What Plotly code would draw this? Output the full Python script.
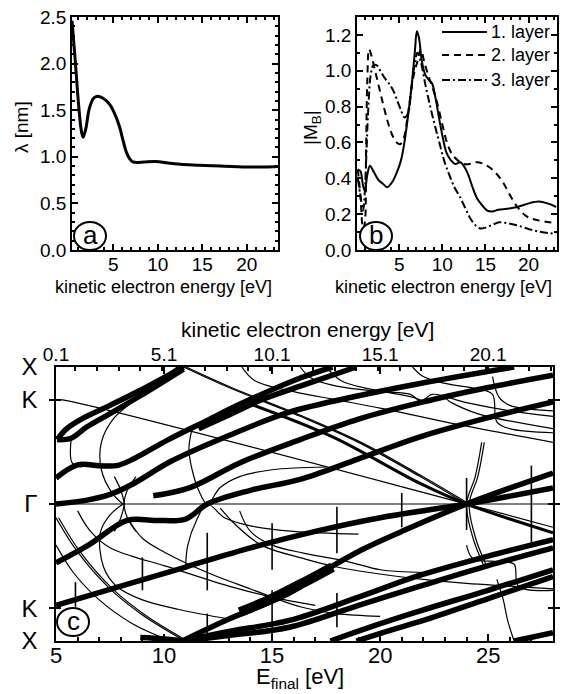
import plotly.graph_objects as go

# ---------------- panel (a): inelastic mean free path ----------------
a_energy = [0.35, 0.7, 1.1, 1.4, 1.6, 1.9, 2.3, 2.8, 3.2, 3.8, 4.6, 5.2, 5.7, 6.1, 6.5, 6.9, 7.2, 7.6, 8.5, 9.8, 11.0, 12.5, 14.7, 17.0, 20.0, 22.0, 23.5]
a_lambda = [2.46, 2.05, 1.55, 1.28, 1.21, 1.30, 1.52, 1.63, 1.65, 1.63, 1.56, 1.45, 1.32, 1.17, 1.04, 0.97, 0.945, 0.94, 0.945, 0.95, 0.935, 0.92, 0.91, 0.90, 0.89, 0.89, 0.895]

# ---------------- panel (b): |M_B| for three layers ----------------
b_energy1 = [0.2, 0.5, 0.8, 1.0, 1.3, 1.6, 2.0, 2.6, 3.1, 3.6, 4.2, 4.7, 5.2, 5.6, 6.0, 6.4, 6.8, 7.05, 7.3, 7.6, 8.0, 8.4, 8.8, 9.2, 9.6, 10.0, 10.5, 11.0, 11.5, 12.1, 12.6, 13.0, 13.5, 14.0, 14.6, 15.2, 15.8, 16.5, 17.5, 18.7, 20.0, 21.2, 22.2, 23.2]
b_layer1 = [0.45, 0.44, 0.36, 0.33, 0.42, 0.47, 0.44, 0.39, 0.37, 0.35, 0.38, 0.43, 0.50, 0.60, 0.74, 0.90, 1.10, 1.22, 1.18, 1.06, 0.98, 0.95, 0.93, 0.85, 0.74, 0.64, 0.54, 0.50, 0.48, 0.49, 0.46, 0.42, 0.35, 0.29, 0.25, 0.22, 0.215, 0.225, 0.23, 0.24, 0.26, 0.27, 0.26, 0.24]
b_energy2 = [0.2, 0.5, 0.8, 1.0, 1.15, 1.3, 1.5, 1.8, 2.2, 2.7, 3.2, 3.7, 4.2, 4.7, 5.1, 5.5, 5.9, 6.3, 6.7, 7.1, 7.5, 7.9, 8.4, 8.9, 9.4, 10.0, 10.6, 11.2, 11.8, 12.5, 13.2, 14.0, 14.8, 15.5, 16.2, 17.0, 17.8, 18.7, 19.7, 20.7, 21.8, 23.2]
b_layer2 = [0.45, 0.30, 0.12, 0.15, 0.55, 0.95, 1.12, 1.08, 1.00, 0.90, 0.80, 0.71, 0.64, 0.60, 0.59, 0.62, 0.72, 0.86, 0.98, 1.05, 1.12, 1.05, 0.97, 0.90, 0.82, 0.70, 0.59, 0.53, 0.50, 0.48, 0.48, 0.49, 0.48, 0.46, 0.43, 0.38, 0.31, 0.24, 0.19, 0.17, 0.16, 0.15]
b_energy3 = [0.2, 0.5, 0.8, 1.0, 1.2, 1.4, 1.7, 2.0, 2.4, 2.8, 3.3, 3.8, 4.3, 4.8, 5.2, 5.6, 6.0, 6.4, 6.8, 7.1, 7.5, 8.0, 8.5, 9.0, 9.6, 10.2, 10.8, 11.4, 12.0, 12.6, 13.2, 13.8, 14.4, 15.0, 15.8, 16.6, 17.5, 18.5, 19.5, 20.5, 21.5, 23.2]
b_layer3 = [0.40, 0.30, 0.22, 0.32, 0.55, 0.78, 0.98, 1.03, 1.03, 1.00, 0.96, 0.93, 0.89, 0.83, 0.78, 0.74, 0.76, 0.90, 1.04, 1.10, 1.05, 0.93, 0.82, 0.72, 0.61, 0.50, 0.42, 0.35, 0.30, 0.24, 0.18, 0.14, 0.12, 0.125, 0.14, 0.155, 0.15, 0.14, 0.125, 0.11, 0.10, 0.09]
b_legend = ["1. layer", "2. layer", "3. layer"]

# ---------------- panel (c): final-state bands, E_final vs k ----------------
k_tickvals = [-1.0, -0.76, 0.0, 0.76, 1.0]
k_ticktext = ["X", "K", "Γ", "K", "X"]
E_ticks = [5, 10, 15, 20, 25]
kin_ticks = [0.1, 5.1, 10.1, 15.1, 20.1]
work_offset = 4.9  # E_final - kinetic energy

# thick (strongly weighted) bands
T1a_E = [5.05, 5.5, 6.3, 7.5, 8.9, 10.9]
T1a_k = [0.47, 0.55, 0.63, 0.72, 0.83, 1.0]
T1b_E = [5.05, 5.7, 6.4, 7.5, 8.9, 10.9]
T1b_k = [0.47, 0.48, 0.56, 0.66, 0.79, 0.985]
T2_E = [5.0, 6.0, 7.0, 7.8, 8.6, 10.2, 12.0, 13.4, 16.3, 17.8]
T2_k = [0.19, 0.285, 0.28, 0.28, 0.33, 0.47, 0.61, 0.72, 0.92, 1.0]
T2b_E = [11.6, 13.0, 14.5, 16.3, 18.9]
T2b_k = [0.55, 0.65, 0.76, 0.86, 1.0]
T3_E = [5.0, 6.5, 7.5, 8.6, 10.3, 13.0, 15.8, 19.0, 21.85, 26.2]
T3_k = [0.0, 0.03, 0.07, 0.15, 0.31, 0.50, 0.67, 0.79, 0.88, 1.0]
T4_E = [9.5, 11.2, 13.5, 16.3, 19.0, 21.85, 25.0, 28.0]
T4_k = [0.06, 0.12, 0.30, 0.47, 0.62, 0.74, 0.85, 0.94]
T5_E = [5.0, 6.5, 8.3, 9.6, 11.0, 12.0, 14.0, 16.3, 19.0, 21.85, 25.0, 28.0]
T5_k = [-0.43, -0.30, -0.12, -0.12, -0.11, 0.0, 0.10, 0.18, 0.33, 0.49, 0.63, 0.745]
T6_E = [5.0, 8.0, 11.0, 14.0, 17.0, 20.0, 24.0, 28.0]
T6_k = [-0.74, -0.60, -0.46, -0.32, -0.20, -0.10, 0.0, 0.117]
T7_E = [10.85, 13.0, 15.8, 17.5, 19.2, 21.0, 24.0, 28.0]
T7_k = [-1.0, -0.84, -0.65, -0.48, -0.33, -0.20, 0.0, 0.226]
T8_E = [10.85, 13.0, 15.8, 19.0, 21.85, 25.0, 28.0]
T8_k = [-1.0, -0.93, -0.85, -0.68, -0.52, -0.38, -0.26]
T9_E = [10.85, 13.0, 15.8, 19.0, 21.85, 25.0, 28.0]
T9_k = [-1.0, -0.96, -0.90, -0.74, -0.60, -0.45, -0.32]
T10_E = [17.7, 19.5, 21.85, 25.0, 28.0]
T10_k = [-1.0, -0.90, -0.78, -0.63, -0.48]
T11_E = [18.9, 20.5, 22.0, 25.0, 28.0]
T11_k = [-1.0, -0.92, -0.85, -0.69, -0.53]
T12_E = [8.9, 10.0, 10.85]
T12_k = [-0.975, -0.985, -1.0]
T13_E = [26.2, 28.0]
T13_k = [-1.0, -0.94]
M1_E = [14.0, 17.8, 21.85, 24.0, 28.0]
M1_k = [0.73, 0.49, 0.15, 0.0, -0.21]
wide_E = [13.5, 15.0, 16.5, 17.8]
wide_k = [-0.79, -0.69, -0.57, -0.46]

# thin bands
t1_E = [5.0, 5.3, 24.0, 28.0]
t1_k = [0.76, 0.76, 0.0, -0.17]
t2_E = [10.9, 13.0, 16.3, 19.0, 21.85, 24.0]
t2_k = [1.0, 0.85, 0.64, 0.45, 0.2, 0.0]
t3_E = [10.6, 9.0, 7.7, 7.1, 7.1, 7.6, 8.1]
t3_k = [1.0, 0.8, 0.63, 0.45, 0.25, 0.08, 0.0]
t4_E = [8.1, 7.5, 7.05, 7.2, 7.8, 9.0, 10.7, 13.0]
t4_k = [0.0, -0.08, -0.21, -0.46, -0.60, -0.70, -0.77, -0.84]
t5_E = [8.7, 8.3, 8.15, 8.3, 8.7]
t5_k = [0.2, 0.1, 0.0, -0.1, -0.2]
t6_E = [7.7, 8.0, 8.15, 8.0, 7.7]
t6_k = [0.2, 0.1, 0.0, -0.1, -0.2]
t7_E = [11.3, 11.15, 11.3, 11.6, 12.0, 12.6, 13.5, 15.0, 17.5]
t7_k = [0.55, 0.4, 0.25, 0.1, 0.0, 0.12, 0.2, 0.25, 0.27]
t8_E = [11.0, 11.1, 11.5, 12.0, 12.8, 14.0, 16.0, 19.0]
t8_k = [-0.45, -0.3, -0.12, 0.0, -0.1, -0.16, -0.2, -0.22]
t9_E = [16.3, 16.8, 18.0, 20.0, 21.4, 21.9, 22.4, 24.0, 26.0, 28.0]
t9_k = [1.0, 0.92, 0.86, 0.82, 0.80, 0.75, 0.80, 0.74, 0.68, 0.64]
t10_E = [17.5, 18.2, 19.5, 21.5, 22.3, 22.8, 23.3, 24.5, 28.0]
t10_k = [1.0, 0.90, 0.84, 0.78, 0.74, 0.79, 0.74, 0.66, 0.55]
t11_E = [21.5, 22.0, 23.0, 24.5, 25.2, 25.4, 26.0, 28.0]
t11_k = [1.0, 0.93, 0.88, 0.84, 0.80, 0.60, 0.55, 0.52]
t12_E = [25.2, 25.5, 26.0, 28.0]
t12_k = [0.93, 0.78, 0.72, 0.68]
t13_E = [13.6, 14.2, 16.0, 18.0, 20.0, 23.0, 28.0]
t13_k = [1.0, 0.90, 0.82, 0.76, 0.70, 0.60, 0.45]
t14_E = [5.0, 6.0, 7.5, 9.0, 10.8]
t14_k = [-0.1, -0.35, -0.62, -0.81, -0.985]
t15_E = [5.0, 5.8, 7.0, 8.5, 10.3]
t15_k = [-0.3, -0.5, -0.7, -0.87, -1.0]
t16_E = [6.0, 6.6, 7.5, 8.5, 10.0, 13.0, 15.0, 17.0]
t16_k = [-0.05, -0.2, -0.32, -0.38, -0.45, -0.6, -0.68, -0.74]
t17_E = [8.3, 9.0, 10.0, 12.0, 14.0, 16.3, 18.0, 20.0]
t17_k = [-0.1, -0.25, -0.35, -0.5, -0.62, -0.75, -0.8, -0.82]
t18_E = [12.6, 13.3, 14.5, 16.5, 18.0, 19.5, 22.0, 24.0, 26.0, 28.0]
t18_k = [-0.03, -0.15, -0.3, -0.4, -0.46, -0.5, -0.55, -0.58, -0.6, -0.62]
t19_E = [13.5, 14.0, 15.0, 16.5, 18.5, 20.0, 22.0]
t19_k = [-0.05, -0.2, -0.3, -0.36, -0.42, -0.48, -0.5]
t20_E = [24.0, 24.3, 25.5, 26.2, 26.4, 28.0]
t20_k = [-0.3, -0.4, -0.42, -0.44, -0.6, -0.63]
t21_E = [25.4, 25.7, 25.9, 26.2]
t21_k = [-0.55, -0.7, -0.85, -1.0]
t22_E = [24.7, 24.4, 24.0, 24.3, 24.8]
t22_k = [0.45, 0.2, 0.0, -0.25, -0.45]
t23_E = [5.0, 28.0]
t23_k = [0.0, 0.0]
t24_E = [5.7, 5.75, 6.2]
t24_k = [0.47, 0.3, 0.27]

# vertical marker segments (E, k_from, k_to)
vbar_E = [5.9, 9.0, 12.0, 12.0, 15.0, 15.0, 18.0, 18.0, 21.0, 24.0, 27.0]
vbar_k0 = [-0.57, -0.39, -0.21, -0.80, -0.14, -0.63, -0.02, -0.65, 0.08, 0.19, 0.28]
vbar_k1 = [-0.75, -0.63, -0.63, -1.0, -0.48, -0.99, -0.36, -0.90, -0.17, -0.19, -0.30]

thick_bands = [(T1a_E, T1a_k), (T1b_E, T1b_k), (T2_E, T2_k), (T2b_E, T2b_k), (T3_E, T3_k),
               (T4_E, T4_k), (T5_E, T5_k), (T6_E, T6_k), (T7_E, T7_k), (T8_E, T8_k),
               (T9_E, T9_k), (T10_E, T10_k), (T11_E, T11_k), (T12_E, T12_k), (T13_E, T13_k)]
thin_bands = [(t1_E, t1_k), (t2_E, t2_k), (t3_E, t3_k), (t4_E, t4_k), (t5_E, t5_k), (t6_E, t6_k),
              (t7_E, t7_k), (t8_E, t8_k), (t9_E, t9_k), (t10_E, t10_k), (t11_E, t11_k), (t12_E, t12_k),
              (t13_E, t13_k), (t14_E, t14_k), (t15_E, t15_k), (t16_E, t16_k), (t17_E, t17_k),
              (t18_E, t18_k), (t19_E, t19_k), (t20_E, t20_k), (t21_E, t21_k), (t22_E, t22_k),
              (t23_E, t23_k), (t24_E, t24_k)]
double_bands = [(t2_E, t2_k), (t14_E, t14_k), (t22_E, t22_k)]

FONT = "Liberation Sans, Arial, sans-serif"
OFF = 8                      # page body margin of the browser
W, H = 570 - OFF, 694 - OFF  # figure size so that it fits in the window

fig = go.Figure()

# panel a
fig.add_trace(go.Scatter(x=a_energy, y=a_lambda, mode="lines", line=dict(color="black", width=3, shape="spline"),
                         xaxis="x", yaxis="y", showlegend=False))
# panel b
fig.add_trace(go.Scatter(x=b_energy1, y=b_layer1, mode="lines", line=dict(color="black", width=2, shape="spline"),
                         xaxis="x2", yaxis="y2", showlegend=False))
fig.add_trace(go.Scatter(x=b_energy2, y=b_layer2, mode="lines", line=dict(color="black", width=2, dash="7px,5px", shape="spline"),
                         xaxis="x2", yaxis="y2", showlegend=False))
fig.add_trace(go.Scatter(x=b_energy3, y=b_layer3, mode="lines", line=dict(color="black", width=2, dash="8px,3px,2px,3px", shape="spline"),
                         xaxis="x2", yaxis="y2", showlegend=False))

# panel c
for E, k in thin_bands:
    fig.add_trace(go.Scatter(x=E, y=k, mode="lines", line=dict(color="black", width=1.2, shape="spline"),
                             xaxis="x3", yaxis="y3", showlegend=False, hoverinfo="skip"))
for E, k in double_bands:
    fig.add_trace(go.Scatter(x=[e + 0.12 for e in E], y=k, mode="lines", line=dict(color="black", width=1.2, shape="spline"),
                             xaxis="x3", yaxis="y3", showlegend=False, hoverinfo="skip"))
for E, k0, k1 in zip(vbar_E, vbar_k0, vbar_k1):
    fig.add_trace(go.Scatter(x=[E, E], y=[k0, k1], mode="lines", line=dict(color="black", width=1.6),
                             xaxis="x3", yaxis="y3", showlegend=False, hoverinfo="skip"))
fig.add_trace(go.Scatter(x=M1_E, y=M1_k, mode="lines", line=dict(color="black", width=3, shape="spline"),
                         xaxis="x3", yaxis="y3", showlegend=False))
for E, k in thick_bands:
    fig.add_trace(go.Scatter(x=E, y=k, mode="lines", line=dict(color="black", width=5.5, shape="spline"),
                             xaxis="x3", yaxis="y3", showlegend=False))
fig.add_trace(go.Scatter(x=wide_E, y=wide_k, mode="lines", line=dict(color="black", width=10, shape="spline"),
                         xaxis="x3", yaxis="y3", showlegend=False))
# top axis (kinetic energy) carrier
fig.add_trace(go.Scatter(x=[5 - work_offset, 28 - work_offset], y=[0, 0], mode="lines",
                         line=dict(color="rgba(0,0,0,0)"), xaxis="x4", yaxis="y3", showlegend=False, hoverinfo="skip"))

axis_common = dict(showline=True, linecolor="black", linewidth=1.5, mirror="allticks", ticks="inside",
                   tickcolor="black", tickwidth=1.5, showgrid=False, zeroline=False, automargin=False,
                   ticklabeloverflow="allow",
                   tickfont=dict(family=FONT, size=19, color="black"))

def px_x(p):
    return (p - OFF) / W

def px_y(p):
    return 1 - (p - OFF) / H

big = dict(family=FONT, size=24, color="black")

fig.update_layout(
    template="none",
    width=W, height=H, margin=dict(l=0, r=0, t=0, b=0),
    paper_bgcolor="white", plot_bgcolor="white", showlegend=False,
    xaxis=dict(domain=[px_x(72), px_x(278)], range=[0.35, 23.5], tickvals=[5, 10, 15, 20], ticklen=6,
               ticklabelstandoff=-4,
               minor=dict(ticks="inside", dtick=1, ticklen=3, tickcolor="black"), anchor="y", **axis_common),
    yaxis=dict(domain=[px_y(250), px_y(17)], range=[0, 2.5], tickvals=[0, 0.5, 1.0, 1.5, 2.0, 2.5],
               ticktext=["0.0", "0.5", "1.0", "1.5", "2.0", "2.5"], ticklen=6,
               minor=dict(ticks="inside", dtick=0.1, ticklen=3, tickcolor="black"), anchor="x", **axis_common),
    xaxis2=dict(domain=[px_x(357), px_x(557)], range=[0.1, 23.3], tickvals=[5, 10, 15, 20], ticklen=6,
                ticklabelstandoff=-4,
                minor=dict(ticks="inside", dtick=1, ticklen=3, tickcolor="black"), anchor="y2", **axis_common),
    yaxis2=dict(domain=[px_y(250), px_y(17)], range=[0, 1.3], tickvals=[0, 0.2, 0.4, 0.6, 0.8, 1.0, 1.2],
                ticktext=["0.0", "0.2", "0.4", "0.6", "0.8", "1.0", "1.2"], ticklen=6,
                minor=dict(ticks="inside", dtick=0.1, ticklen=3, tickcolor="black"), anchor="x2", **axis_common),
    xaxis3=dict(domain=[px_x(56), px_x(553)], range=[5, 28], tickvals=E_ticks, ticklen=7,
                ticklabelstandoff=-6,
                minor=dict(ticks="inside", dtick=1, ticklen=4, tickcolor="black"), anchor="y3",
                **{**axis_common, "mirror": False, "tickfont": dict(family=FONT, size=22, color="black")}),
    xaxis4=dict(overlaying="x3", side="top", anchor="y3", range=[5 - work_offset, 28 - work_offset],
                tickvals=kin_ticks, ticktext=[f"{v:.1f}" for v in kin_ticks], ticklen=7,
                ticklabelstandoff=-3,
                minor=dict(ticks="inside", dtick=1, ticklen=4, tickcolor="black"),
                **{**axis_common, "mirror": False}),
    yaxis3=dict(domain=[px_y(641), px_y(367)], range=[-1, 1], tickvals=k_tickvals, ticktext=k_ticktext, ticklen=5,
                ticklabelstandoff=12, anchor="x3", **{**axis_common, "tickfont": big}),
)

ann = []
def text(x, y, s, size, angle=0, xanchor="center"):
    ann.append(dict(x=px_x(x), y=px_y(y), xref="paper", yref="paper", text=s, showarrow=False,
                    font=dict(family=FONT, size=size, color="black"), textangle=angle, xanchor=xanchor, yanchor="middle"))

text(163, 287, "kinetic electron energy [eV]", 18)
text(443, 287, "kinetic electron energy [eV]", 18)
text(22, 127, "λ [nm]", 19, angle=-90)
text(312, 128, "|M<sub>B</sub>|", 19, angle=-90)
text(307, 329, "kinetic electron energy [eV]", 21)
text(300, 678, "E<sub>final</sub> [eV]", 22)

# legend of panel b
legend_y = [32, 55, 80]
legend_dash = ["solid", "7px,5px", "8px,3px,2px,3px"]
shapes = []
for ly, d, lab in zip(legend_y, legend_dash, b_legend):
    shapes.append(dict(type="line", xref="paper", yref="paper", x0=px_x(442), x1=px_x(487), y0=px_y(ly), y1=px_y(ly),
                       line=dict(color="black", width=2, dash=d)))
    text(489, ly, lab, 18, xanchor="left")

# panel labels in circles
for cx, cy, lab in [(90, 236, "a"), (376, 236, "b"), (73, 622, "c")]:
    shapes.append(dict(type="circle", xref="paper", yref="paper", x0=px_x(cx - 16), x1=px_x(cx + 16),
                       y0=px_y(cy + 14), y1=px_y(cy - 14), line=dict(color="black", width=2), fillcolor="white"))
    text(cx, cy - 1, lab, 26)

fig.update_layout(annotations=ann, shapes=shapes)
fig.write_html("out.html")
